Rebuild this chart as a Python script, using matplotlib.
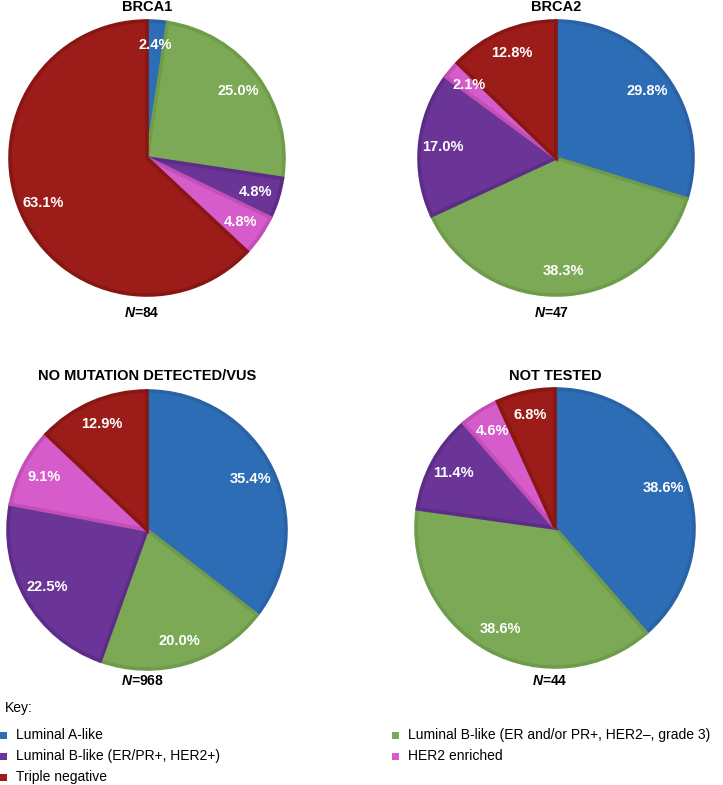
import matplotlib
matplotlib.use("Agg")
import matplotlib.pyplot as plt
from matplotlib.patches import Rectangle

# Subtypes, in clockwise order from 12 o'clock
categories = [
    "Luminal A-like",
    "Luminal B-like (ER and/or PR+, HER2\u2013, grade 3)",
    "Luminal B-like (ER/PR+, HER2+)",
    "HER2 enriched",
    "Triple negative",
]
colors = ["#2D6DB5", "#7BA955", "#6A3597", "#D65BCB", "#9B1C18"]
edge_colors = ["#2962A6", "#6F9C4B", "#5D2C88", "#C24FB8", "#881713"]

groups = ["BRCA1", "BRCA2", "NO MUTATION DETECTED/VUS", "NOT TESTED"]
n_values = [84, 47, 968, 44]
brca1 = [2.4, 25.0, 4.8, 4.8, 63.1]
brca2 = [29.8, 38.3, 17.0, 2.1, 12.8]
no_mutation = [35.4, 20.0, 22.5, 9.1, 12.9]
not_tested = [38.6, 38.6, 11.4, 4.6, 6.8]
shares = [brca1, brca2, no_mutation, not_tested]

plt.rcParams.update({
    "font.family": ["Liberation Sans", "DejaVu Sans"],
    "mathtext.fontset": "custom",
    "mathtext.it": "Liberation Sans:italic:bold",
    "mathtext.rm": "Liberation Sans:bold",
})

W, H = 723, 785
fig = plt.figure(figsize=(W / 100, H / 100), dpi=100)

# pixel layout: pie centre, radius, title row, N row
layout = [
    (147, 158, 137, 7, 313),
    (556, 158, 137, 7, 313),
    (147, 530, 139, 376, 681),
    (555, 528, 139, 376, 681),
]


def fx(x):
    return x / W


def fy(y):
    return 1 - y / H


for name, n, vals, (cx, cy, r, ty, ny) in zip(groups, n_values, shares, layout):
    ax = fig.add_axes([fx(cx - r), fy(cy + r), 2 * r / W, 2 * r / H])
    it = iter(vals)
    ax.pie(vals, colors=colors, startangle=90, counterclock=False,
           autopct=lambda p, it=it: f"{next(it):.1f}%", pctdistance=0.83,
           wedgeprops=dict(linewidth=2.6),
           textprops=dict(color="white", fontsize=10.5, fontweight="bold"))
    for w, ec in zip(ax.patches, edge_colors):
        w.set_edgecolor(ec)
    ax.set_xlim(-1.0, 1.0)
    ax.set_ylim(-1.0, 1.0)
    ax.set_aspect("equal")
    ax.axis("off")

    fig.text(fx(cx), fy(ty), name, ha="center", va="center",
             fontsize=10.5, fontweight="bold")
    fig.text(fx(cx - 5), fy(ny), f"$N$=" + str(n), ha="center", va="center",
             fontsize=10, fontweight="bold")

# Key
fig.text(fx(5), fy(708), "Key:", ha="left", va="center", fontsize=10)
legend_pos = [(0, 735), (392, 735), (0, 756), (392, 756), (0, 777)]
for (lx, ly), label, c in zip(legend_pos, categories, colors):
    fig.patches.append(Rectangle((fx(lx), fy(ly + 3.5)), 7 / W, 7 / H,
                                 facecolor=c, edgecolor="none",
                                 transform=fig.transFigure, figure=fig))
    fig.text(fx(lx + 16), fy(ly), label, ha="left", va="center", fontsize=10)

fig.savefig("out.png", dpi=100)
